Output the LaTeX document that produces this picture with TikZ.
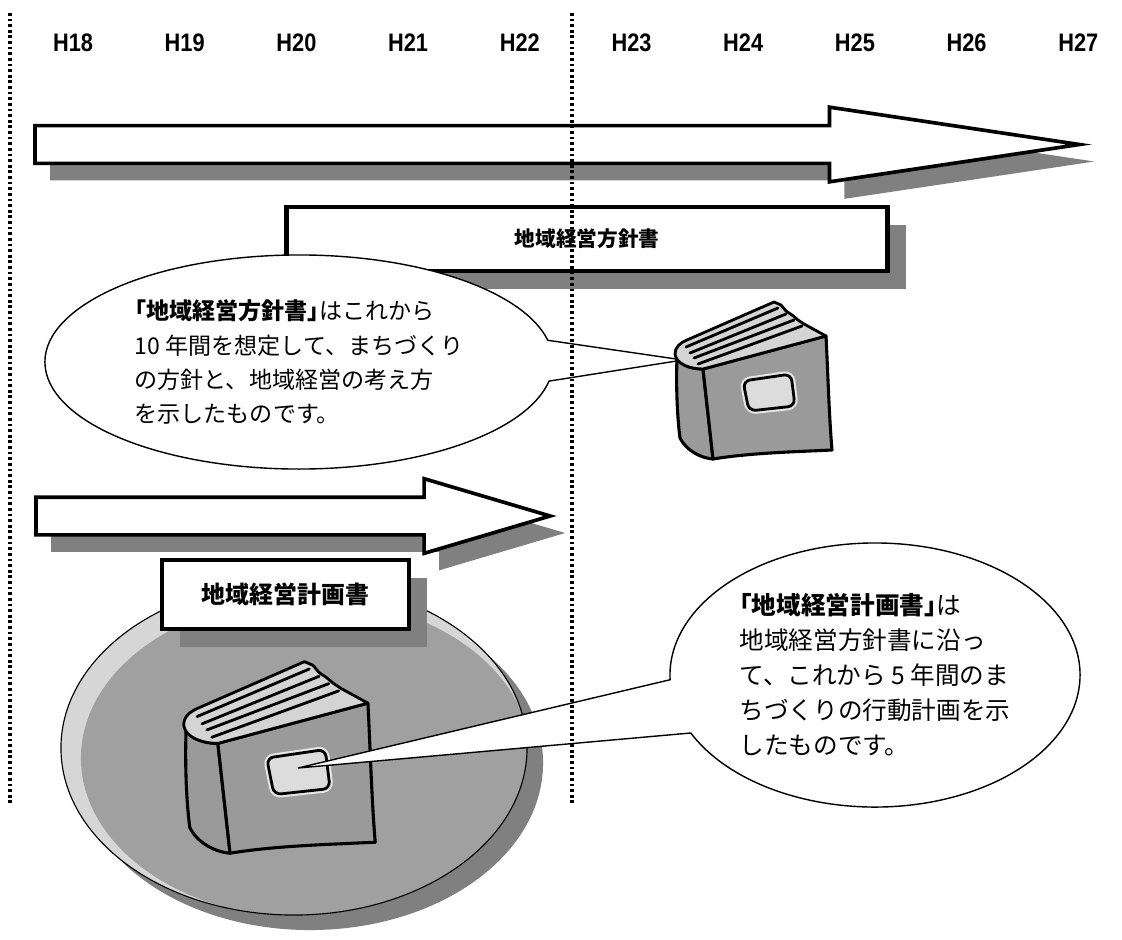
\documentclass[tikz,border=0pt]{standalone}
\usepackage{fontspec}
\setmainfont{Liberation Sans}
\newfontfamily\jpfont{Noto Sans CJK JP}
\newfontfamily\yearfont[FakeStretch=0.86]{Liberation Sans}
\usepackage{xcolor}
\definecolor{shade}{HTML}{808080}
\definecolor{plate}{HTML}{A0A0A0}
\definecolor{platerim}{HTML}{D6D6D6}
\definecolor{cover}{HTML}{9A9A9A}
\definecolor{pages}{HTML}{D4D4D4}
\definecolor{tag}{HTML}{DCDCDC}
\usepackage{tikz}
\usetikzlibrary{shapes.arrows,shapes.callouts,shapes.geometric,shadows}

% bold title in corner brackets, brackets set half width
\newcommand{\booktitle}[1]{{\bfseries\addfontfeature{RawFeature=+halt}「#1」}}

% a hand-drawn book, local units are pixels (y downwards)
\tikzset{
  book/.pic={
    % spine
    \filldraw[fill=cover, line width=2.2pt, line join=round]
      (63,79) .. controls (50,79) and (38,74) .. (37,66)
      .. controls (36,95) and (37,125) .. (40,148)
      .. controls (46,160) and (60,168) .. (73,169) -- cycle;
    % front cover
    \filldraw[fill=cover, line width=2.2pt, line join=round]
      (63,79) -- (186,46) .. controls (188,85) and (189,125) .. (192,160)
      .. controls (150,162) and (110,163) .. (73,169) -- cycle;
    % page block
    \filldraw[fill=pages, line width=2pt, line join=round]
      (63,79) .. controls (50,79) and (36,74) .. (35,64)
      .. controls (35,57) and (40,53) .. (47,50) -- (134,12) -- (141,15)
      -- (146,21) -- (152,25) -- (158,30) -- (164,34) -- (186,46) -- cycle;
    \foreach \xa/\ya/\xb/\yb in {46/57/138/18, 50/63/146/24, 54/68/154/30, 58/74/162/36}
      \draw[line width=2pt, line cap=round] (\xa,\ya) -- (\xb,\yb);
    % label on the cover
    \draw[white!80!gray, line width=5pt, rounded corners=5pt]
      (103,91) -- (151,84) -- (155,116) -- (109,121) -- cycle;
    \filldraw[fill=tag, line width=2pt, rounded corners=5pt]
      (103,91) -- (151,84) -- (155,116) -- (109,121) -- cycle;
  }
}

\begin{document}
\begin{tikzpicture}[
  x=0.025cm, y=-0.025cm,
  yearlbl/.style={font=\yearfont\bfseries\fontsize{18pt}{20pt}\selectfont, inner sep=0pt},
  span/.style={
    single arrow, draw=black, fill=white, line width=2.6pt,
    single arrow head extend=0.4625cm, single arrow head indent=0pt,
    inner xsep=0pt, inner ysep=0.425cm, anchor=tail, outer sep=0pt,
    general shadow={fill=shade, shadow xshift=0.375cm, shadow yshift=-0.425cm}
  },
  title/.style={
    rectangle, draw=black, fill=white, line width=3pt, inner sep=0pt,
    general shadow={fill=shade, shadow xshift=0.45cm, shadow yshift=-0.45cm}
  },
  note/.style={
    ellipse callout, draw=black, fill=white, line width=1pt,
    inner sep=0pt, align=left
  },
  guide/.style={line width=2.2pt, dash pattern=on 1.9pt off 2.1pt}
]

\useasboundingbox (0,0) rectangle (1122,939);
\fill[white] (0,0) rectangle (1122,939);

% fiscal years
\foreach \yr [count=\i from 0] in {18,...,27}
  \node[yearlbl] (h\yr) at ({73+111.7*\i},43) {H\yr};

% ten-year span
\node[span, minimum height=26.1cm, single arrow tip angle=17] (longspan) at (35,144.5) {};

\node[title, minimum width=15.025cm, minimum height=1.6cm,
  font=\jpfont\bfseries\fontsize{14.7pt}{16pt}\selectfont] (hoshin) at (587,239) {地域経営方針書};

\coordinate (tip1) at (683,360);
\node[note, minimum width=12.7cm, minimum height=5.35cm,
  callout absolute pointer={(tip1)}, callout pointer arc=22,
  font=\jpfont\fontsize{16.4pt}{24.2pt}\selectfont] (note1) at (299,362)
  {\booktitle{地域経営方針書}はこれから\\
   10 年間を想定して、まちづくり\\
   の方針と、地域経営の考え方\\
   を示したものです。};

\pic at (640,290) {book};

% five-year span
\node[span, minimum height=12.85cm, single arrow tip angle=33] (shortspan) at (36,516) {};

\node[ellipse, fill=platerim, draw=black, line width=0.8pt, inner sep=0pt,
  minimum width=11.65cm, minimum height=8.35cm,
  general shadow={fill=shade, shadow xshift=0.4cm, shadow yshift=-0.375cm},
  path picture={\fill[plate] ([xshift=0.3cm,yshift=-0.25cm]path picture bounding box.center)
    ellipse [x radius=5.625cm, y radius=4cm];}] (plate) at (294,748) {};

\node[title, minimum width=6.175cm, minimum height=1.725cm,
  font=\jpfont\bfseries\fontsize{17pt}{19pt}\selectfont] (keikaku) at (285.5,594.5) {地域経営計画書};

\pic[scale=1.22] at (141,647) {book};

\coordinate (tip2) at (298,768);
\node[note, minimum width=10.25cm, minimum height=6.6cm,
  callout absolute pointer={(tip2)}, callout pointer arc=24,
  font=\jpfont\fontsize{17.5pt}{24.9pt}\selectfont] (note2) at (875,675)
  {\booktitle{地域経営計画書}は\\
   地域経営方針書に沿っ\\
   て、これから 5 年間のま\\
   ちづくりの行動計画を示\\
   したものです。};

% period boundaries
\draw[guide] (10,13) -- (10,805);
\draw[guide] (572,13) -- (572,805);

\end{tikzpicture}
\end{document}
